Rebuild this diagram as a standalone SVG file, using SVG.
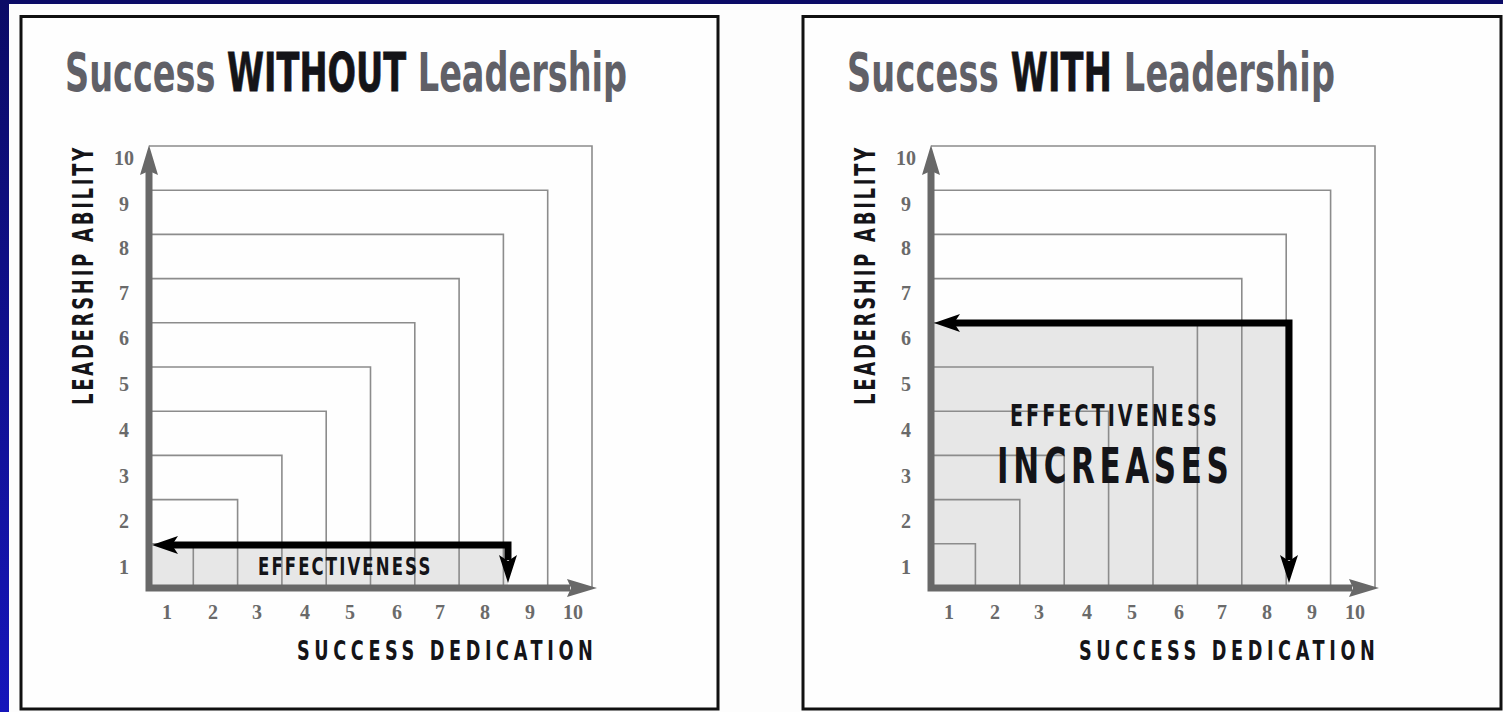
<svg xmlns="http://www.w3.org/2000/svg" width="1503" height="712" viewBox="0 0 1503 712">
<defs>
<linearGradient id="bg" x1="0" y1="0" x2="0" y2="1">
<stop offset="0" stop-color="#0b0b66"/>
<stop offset="1" stop-color="#1616bb"/>
</linearGradient>
</defs>
<style>
.panel{fill:#fefefe;stroke:#111;stroke-width:3}
.grid{fill:none;stroke:#8c8c8c;stroke-width:1.6}
.shade{fill:#e7e7e7}
.axis{fill:none;stroke:#686868;stroke-width:7}
.axhead{fill:#686868}
.arrow{fill:none;stroke:#000;stroke-width:7;stroke-linejoin:miter}
.ahead{fill:#000}
.title{font-family:"DejaVu Sans",sans-serif;font-size:53px;font-weight:bold;fill:#606067}
.dark{fill:#141418;stroke:#141418;stroke-width:0.8}
.lbl{font-family:"DejaVu Sans",sans-serif;font-weight:bold;fill:#141418}
.s26{font-size:26px}
.s28{font-size:28px}
.s25{font-size:25px}
.s30{font-size:30px}
.s50{font-size:50px}
.num{font-family:"Liberation Serif","DejaVu Serif",serif;font-weight:bold;font-size:20px;fill:#6a6a6a;text-anchor:middle}
</style>
<rect x="0" y="0" width="1503" height="712" fill="url(#bg)"/>
<rect x="9" y="4" width="1494" height="708" fill="#fdfdfd"/>

<g id="panel-without">
<rect class="panel" x="21" y="16.5" width="697" height="692.5"/>
<text class="title" transform="translate(65,91) scale(0.633,1)" textLength="888">Success <tspan class="dark">WITHOUT</tspan> Leadership</text>
<rect class="shade" x="149" y="545" width="359" height="43"/>
<path class="grid" d="M149 543.8H193.3V588M149 499.6H237.6V588M149 455.4H281.9V588M149 411.2H326.2V588M149 367H370.5V588M149 322.8H414.8V588M149 278.6H459.1V588M149 234.4H503.4V588M149 190.2H547.7V588M149 146H592V588"/>
<path class="axis" d="M149 170V588H570"/>
<polygon class="axhead" points="149,145 158,175 149,171 140,175"/>
<polygon class="axhead" points="597,588 567,597 571,588 567,579"/>
<text class="lbl s28" transform="translate(93,405) rotate(-90) scale(0.64,1)" textLength="402">LEADERSHIP ABILITY</text>
<text class="lbl s26" transform="translate(297,660) scale(0.68,1)" textLength="435">SUCCESS DEDICATION</text>
<text class="lbl s25" transform="translate(258,575) scale(0.66,1)" textLength="261">EFFECTIVENESS</text>
<g class="num">
<text x="124" y="165">10</text><text x="124" y="211">9</text><text x="124" y="255">8</text><text x="124" y="300">7</text><text x="124" y="345">6</text><text x="124" y="391">5</text><text x="124" y="437">4</text><text x="124" y="483">3</text><text x="124" y="528">2</text><text x="124" y="574">1</text>
<text x="167" y="619">1</text><text x="213" y="619">2</text><text x="257" y="619">3</text><text x="305" y="619">4</text><text x="350" y="619">5</text><text x="397" y="619">6</text><text x="440" y="619">7</text><text x="485" y="619">8</text><text x="530" y="619">9</text><text x="573" y="619">10</text>
</g>
</g>

<g id="panel-with">
<rect class="panel" x="803" y="16.5" width="698" height="692.5"/>
<text class="title" transform="translate(847,91) scale(0.633,1)" textLength="771">Success <tspan class="dark">WITH</tspan> Leadership</text>
<rect class="shade" x="931" y="323" width="358" height="265"/>
<path class="grid" d="M931 543.8H975.4V588M931 499.6H1019.8V588M931 455.4H1064.2V588M931 411.2H1108.6V588M931 367H1153V588M931 322.8H1197.4V588M931 278.6H1241.8V588M931 234.4H1286.2V588M931 190.2H1330.6V588M931 146H1375V588"/>
<path class="axis" d="M931 170V588H1352"/>
<polygon class="axhead" points="931,145 940,175 931,171 922,175"/>
<polygon class="axhead" points="1379,588 1349,597 1353,588 1349,579"/>
<text class="lbl s28" transform="translate(875,405) rotate(-90) scale(0.64,1)" textLength="402">LEADERSHIP ABILITY</text>
<text class="lbl s26" transform="translate(1079,660) scale(0.68,1)" textLength="435">SUCCESS DEDICATION</text>
<text class="lbl s30" transform="translate(1010,426) scale(0.64,1)" textLength="323">EFFECTIVENESS</text>
<text class="lbl s50" transform="translate(997,483) scale(0.62,1)" textLength="374">INCREASES</text>
<g class="num">
<text x="906" y="165">10</text><text x="906" y="211">9</text><text x="906" y="255">8</text><text x="906" y="300">7</text><text x="906" y="345">6</text><text x="906" y="391">5</text><text x="906" y="437">4</text><text x="906" y="483">3</text><text x="906" y="528">2</text><text x="906" y="574">1</text>
<text x="949" y="619">1</text><text x="995" y="619">2</text><text x="1039" y="619">3</text><text x="1087" y="619">4</text><text x="1132" y="619">5</text><text x="1179" y="619">6</text><text x="1222" y="619">7</text><text x="1267" y="619">8</text><text x="1312" y="619">9</text><text x="1355" y="619">10</text>
</g>
</g>

<g id="connectors">
<path class="arrow" d="M172 545H508V560"/>
<polygon class="ahead" points="152,545 178,536 172,545 178,554"/>
<polygon class="ahead" points="508,583 499,555 508,561 517,555"/>
<path class="arrow" d="M954 323H1289V560"/>
<polygon class="ahead" points="934,323 960,314 954,323 960,332"/>
<polygon class="ahead" points="1289,583 1280,555 1289,561 1298,555"/>
</g>
</svg>
